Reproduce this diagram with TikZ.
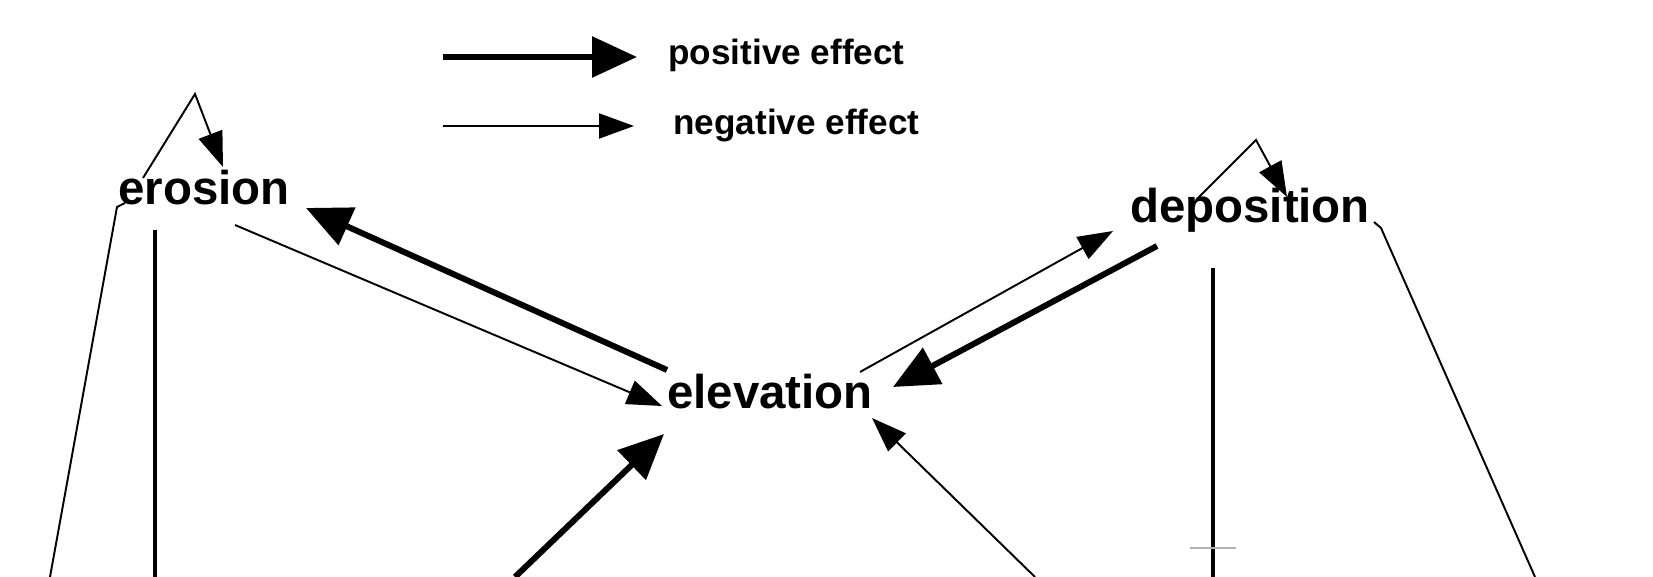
\documentclass[tikz,border=0pt]{standalone}
\usepackage{fontspec}
\setmainfont{Liberation Sans}
\usetikzlibrary{arrows.meta}
\begin{document}
\begin{tikzpicture}[x=0.02cm,y=-0.02cm,
  lbl/.style={font=\fontsize{27}{30}\selectfont\bfseries,inner sep=0},
  leg/.style={font=\fontsize{20}{24}\selectfont\bfseries,inner sep=0,anchor=west},
  posarr/.style={line width=3.4pt,-{Triangle[length=0.9cm,width=0.8cm]}},
  negarr/.style={line width=1.1pt,-{Triangle[length=0.7cm,width=0.5cm]}},
  thinln/.style={line width=1.1pt},
  midln/.style={line width=2pt}]
\useasboundingbox (0,0) rectangle (1653,577);
% legend
\coordinate (l1a) at (443,57); \coordinate (l1b) at (637,57);
\coordinate (l2a) at (443,126); \coordinate (l2b) at (634,126);
\draw[posarr] (l1a) -- (l1b);
\draw[negarr] (l2a) -- (l2b);
\node[leg] (t1) at (668,55) {positive effect};
\node[leg] (t2) at (673,125) {negative effect};
% nodes
\node[lbl] (ero) at (204,188) {erosion};
\node[lbl] (dep) at (1250,210) {deposition};
\node[lbl] (ele) at (770,392) {elevation};
% erosion loop
\coordinate (e1) at (143,178); \coordinate (e2) at (195,94); \coordinate (e3) at (223,167);
\draw[negarr] (e1) -- (e2) -- (e3);
\coordinate (e4) at (125,203); \coordinate (e5) at (117,207); \coordinate (e6) at (50,577);
\draw[thinln] (e4) -- (e5) -- (e6);
\coordinate (e7) at (155,230); \coordinate (e8) at (155,577);
\draw[midln] (e7) -- (e8);
% erosion <-> elevation
\coordinate (a1) at (235,225); \coordinate (a2) at (662,406);
\draw[negarr] (a1) -- (a2);
\coordinate (b1) at (667,370); \coordinate (b2) at (306,208);
\draw[posarr] (b1) -- (b2);
% deposition <-> elevation
\coordinate (c1) at (860,372); \coordinate (c2) at (1113,231);
\draw[negarr] (c1) -- (c2);
\coordinate (d1) at (1157,246); \coordinate (d2) at (893,387);
\draw[posarr] (d1) -- (d2);
% deposition loop
\coordinate (f1) at (1196,200); \coordinate (f2) at (1256,140); \coordinate (f3) at (1287,197);
\draw[negarr] (f1) -- (f2) -- (f3);
\coordinate (f4) at (1374,222); \coordinate (f5) at (1381,228); \coordinate (f6) at (1535,577);
\draw[thinln] (f4) -- (f5) -- (f6);
\coordinate (g1) at (1213,268); \coordinate (g2) at (1213,577);
\draw[midln] (g1) -- (g2);
\coordinate (g3) at (1190,548); \coordinate (g4) at (1236,548);
\draw[line width=1pt,gray!60] (g3) -- (g4);
% bottom arrows
\coordinate (h1) at (515,577); \coordinate (h2) at (664,434);
\draw[posarr] (h1) -- (h2);
\coordinate (k1) at (1035,577); \coordinate (k2) at (872,418);
\draw[negarr] (k1) -- (k2);
\end{tikzpicture}
\end{document}
